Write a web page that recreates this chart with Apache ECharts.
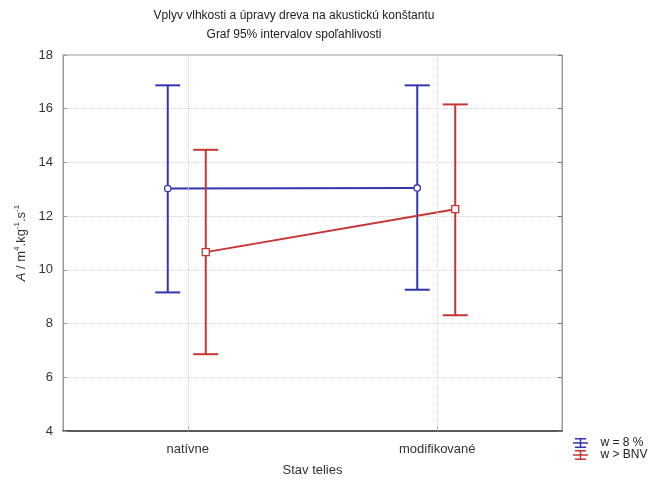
<!DOCTYPE html>
<html>
<head>
<meta charset="utf-8">
<script src="https://cdn.jsdelivr.net/npm/echarts@6/dist/echarts.min.js"></script>
<style>html,body{margin:0;padding:0;background:#fff}#c{width:658px;height:482px}</style>
</head>
<body>
<div id="c"></div>
<script>
const categories = ['natívne', 'modifikované'];
const seriesNames = ['w = 8 %', 'w > BNV'];
const blueMean = [13.03, 13.05];
const blueLow = [9.16, 9.26];
const blueHigh = [16.87, 16.87];
const redMean = [10.66, 12.26];
const redLow = [6.86, 8.31];
const redHigh = [14.47, 16.16];
const yTicks = [4, 6, 8, 10, 12, 14, 16, 18];

const BLUE = '#3434b0';
const RED = '#c83434';
const FONT = 'Liberation Sans, Arial, sans-serif';

function makeRender(mean, low, high, offset, color, marker) {
  return function (params, api) {
    const i = params.dataIndex;
    const c = api.coord([i, mean[i]]);
    const x = c[0] + offset;
    const yHi = api.coord([i, high[i]])[1];
    const yLo = api.coord([i, low[i]])[1];
    const cap = 12.5;
    const ls = { stroke: color, lineWidth: 2 };
    const children = [
      { type: 'line', shape: { x1: x, y1: yHi, x2: x, y2: yLo }, style: ls, z2: 1 },
      { type: 'line', shape: { x1: x - cap, y1: yHi, x2: x + cap, y2: yHi }, style: ls, z2: 1 },
      { type: 'line', shape: { x1: x - cap, y1: yLo, x2: x + cap, y2: yLo }, style: ls, z2: 1 }
    ];
    if (i > 0) {
      const p = api.coord([i - 1, mean[i - 1]]);
      children.push({ type: 'line', shape: { x1: p[0] + offset, y1: p[1], x2: x, y2: c[1] }, style: ls, z2: 2 });
    }
    if (marker === 'circle') {
      children.push({ type: 'circle', shape: { cx: x, cy: c[1], r: 3.2 }, style: { fill: '#fff', stroke: color, lineWidth: 1.3 }, z2: 10 });
    } else {
      children.push({ type: 'rect', shape: { x: x - 3.5, y: c[1] - 3.5, width: 7, height: 7 }, style: { fill: '#fff', stroke: color, lineWidth: 1.3 }, z2: 10 });
    }
    return { type: 'group', children: children };
  };
}

const iconPath = 'path://M3,0H21V2.5H3Z M3,13.5H21V16H3Z M10.8,0H13.2V16H10.8Z M0,6.8H24V9.2H0Z';

const chart = echarts.init(document.getElementById('c'), null, { renderer: 'canvas' });
chart.setOption({
  animation: false,
  backgroundColor: '#fff',
  textStyle: { fontFamily: FONT },
  title: {
    text: 'Vplyv vlhkosti a úpravy dreva na akustickú konštantu\nGraf 95% intervalov spoľahlivosti',
    left: 289,
    top: 1,
    textAlign: 'center',
    textStyle: { fontFamily: FONT, fontSize: 12, fontWeight: 'normal', color: '#222', lineHeight: 19 }
  },
  legend: {
    orient: 'vertical',
    left: 573,
    top: 437,
    itemWidth: 24,
    itemHeight: 10,
    itemGap: 0,
    padding: 0,
    textStyle: { fontFamily: FONT, fontSize: 12, color: '#222', padding: [0, 0, 0, 3] },
    data: [
      { name: seriesNames[0], icon: iconPath },
      { name: seriesNames[1], icon: iconPath }
    ]
  },
  grid: { left: 63, right: 96, top: 55, bottom: 46, show: true, borderColor: '#999', borderWidth: 1 },
  xAxis: {
    type: 'category',
    data: categories,
    name: 'Stav telies',
    nameLocation: 'middle',
    nameGap: 33,
    nameTextStyle: { fontFamily: FONT, fontSize: 13, color: '#333' },
    axisLine: { lineStyle: { color: '#333', width: 1.5 } },
    axisTick: { show: true, alignWithLabel: true, inside: true, length: 4, lineStyle: { color: '#999' } },
    axisLabel: { fontFamily: FONT, fontSize: 13, color: '#333', margin: 12 },
    splitLine: { show: false }
  },
  yAxis: [{
    type: 'value',
    min: yTicks[0],
    max: yTicks[yTicks.length - 1],
    interval: yTicks[1] - yTicks[0],
    name: '{i|A}{n| / m}{s|4}{n|.kg}{s|-1}{n|.s}{s|-1}',
    nameLocation: 'middle',
    nameGap: 31,
    nameTextStyle: {
      rich: {
        i: { fontFamily: FONT, fontSize: 13, fontStyle: 'italic', color: '#333', lineHeight: 15, verticalAlign: 'bottom' },
        n: { fontFamily: FONT, fontSize: 13, color: '#333', lineHeight: 15, verticalAlign: 'bottom' },
        s: { fontFamily: FONT, fontSize: 8, color: '#333', lineHeight: 15, verticalAlign: 'top' }
      }
    },
    axisLine: { show: true, lineStyle: { color: '#999' } },
    axisTick: { show: true, inside: true, length: 4, lineStyle: { color: '#999' } },
    axisLabel: { fontFamily: FONT, fontSize: 13, color: '#333', margin: 10 },
    splitLine: { show: true, lineStyle: { type: 'dotted', color: '#d4d4d4' } }
  }, {
    type: 'value',
    position: 'right',
    min: yTicks[0],
    max: yTicks[yTicks.length - 1],
    interval: yTicks[1] - yTicks[0],
    axisLine: { show: true, lineStyle: { color: '#999' } },
    axisTick: { show: true, inside: true, length: 4, lineStyle: { color: '#777' } },
    axisLabel: { show: false },
    splitLine: { show: false }
  }],
  series: [
    {
      name: seriesNames[0],
      type: 'custom',
      itemStyle: { color: BLUE },
      renderItem: makeRender(blueMean, blueLow, blueHigh, -20, BLUE, 'circle'),
      encode: { x: 0, y: 1 },
      data: categories.map((c, i) => [i, blueMean[i], blueLow[i], blueHigh[i]]),
      markLine: {
        silent: true,
        symbol: 'none',
        label: { show: false },
        lineStyle: { type: 'dotted', color: '#d4d4d4', width: 1 },
        data: categories.map((c) => ({ xAxis: c }))
      },
      z: 3
    },
    {
      name: seriesNames[1],
      type: 'custom',
      itemStyle: { color: RED },
      renderItem: makeRender(redMean, redLow, redHigh, 18, RED, 'square'),
      encode: { x: 0, y: 1 },
      data: categories.map((c, i) => [i, redMean[i], redLow[i], redHigh[i]]),
      z: 4
    }
  ]
});
</script>
</body>
</html>
